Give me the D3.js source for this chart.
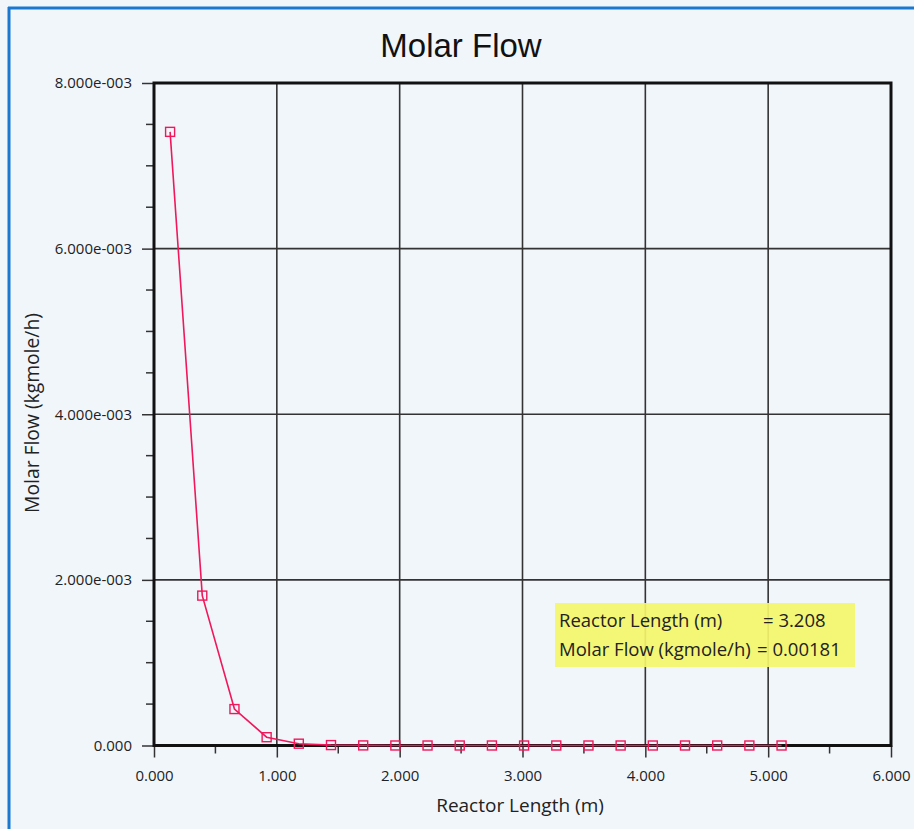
<!DOCTYPE html>
<html><head><meta charset="utf-8">
<script src="https://cdn.jsdelivr.net/npm/d3@7"></script>
<style>
html,body{margin:0;padding:0;background:#f1f6fb;}
svg{display:block;}
</style></head>
<body>
<svg id="chart" width="914" height="829"></svg>
<script>
const reactorLength = [0.131, 0.393, 0.655, 0.917, 1.179, 1.441, 1.703, 1.965, 2.227, 2.489, 2.751, 3.013, 3.275, 3.537, 3.799, 4.061, 4.323, 4.585, 4.847, 5.109];
const molarFlow = [7.41e-3, 1.81e-3, 0.44e-3, 0.10e-3, 0.022e-3, 0.005e-3, 0.001e-3, 0.0002e-3, 0, 0, 0, 0, 0, 0, 0, 0, 0, 0, 0, 0];
const xTicks = [0, 1, 2, 3, 4, 5, 6];
const yTicks = [0, 2e-3, 4e-3, 6e-3, 8e-3];
const xMinor = [0.5, 1.5, 2.5, 3.5, 4.5, 5.5];
const yMinor = [0.5e-3, 1e-3, 1.5e-3, 2.5e-3, 3e-3, 3.5e-3, 4.5e-3, 5e-3, 5.5e-3, 6.5e-3, 7e-3, 7.5e-3];
const legendLines = [["Reactor Length (m)", "= 3.208"], ["Molar Flow (kgmole/h)", "= 0.00181"]];

const svg = d3.select("#chart");
const W = 914, H = 829;
const m = {left: 154, right: 891, top: 83, bottom: 745.5};

// background + blue frame
svg.append("rect").attr("width", W).attr("height", H).attr("fill", "#f1f6fb");
svg.append("line").attr("x1", 8).attr("x2", W).attr("y1", 8).attr("y2", 8).attr("stroke", "#1a78d0").attr("stroke-width", 3);
svg.append("line").attr("x1", 9).attr("x2", 9).attr("y1", 7).attr("y2", H).attr("stroke", "#1a78d0").attr("stroke-width", 3);

const x = d3.scaleLinear().domain([0, 6]).range([m.left, m.right]);
const y = d3.scaleLinear().domain([0, 8e-3]).range([m.bottom, m.top]);

// gridlines
const g = svg.append("g");
g.selectAll(".vg").data(xTicks.slice(1, -1)).join("line")
  .attr("x1", d => x(d)).attr("x2", d => x(d)).attr("y1", m.top).attr("y2", m.bottom)
  .attr("stroke", "#333").attr("stroke-width", 1.6);
g.selectAll(".hg").data(yTicks.slice(1, -1)).join("line")
  .attr("x1", m.left).attr("x2", m.right).attr("y1", d => y(d)).attr("y2", d => y(d))
  .attr("stroke", "#333").attr("stroke-width", 1.6);

// axes
const fontTick = "'Open Sans', 'Noto Sans', sans-serif";
const xAxis = svg.append("g").attr("transform", `translate(0,${m.bottom})`)
  .call(d3.axisBottom(x).tickValues(xTicks).tickSize(12).tickFormat(d3.format(".3f")));
xAxis.select(".domain").remove();
xAxis.selectAll(".tick line").attr("stroke", "#333").attr("stroke-width", 1.5);
xAxis.selectAll("text").attr("font-family", fontTick).attr("font-size", 15).attr("fill", "#222").attr("dy", "1.35em");
svg.append("g").selectAll("line").data(xMinor).join("line")
  .attr("x1", d => x(d)).attr("x2", d => x(d)).attr("y1", m.bottom).attr("y2", m.bottom + 8)
  .attr("stroke", "#333").attr("stroke-width", 1.5);

const yFmt = d => d === 0 ? "0.000" : (d / 1e-3).toFixed(3) + "e-003";
const yAxis = svg.append("g").attr("transform", `translate(${m.left},0)`)
  .call(d3.axisLeft(y).tickValues(yTicks).tickSize(12).tickFormat(yFmt));
yAxis.select(".domain").remove();
yAxis.selectAll(".tick line").attr("stroke", "#333").attr("stroke-width", 1.5);
yAxis.selectAll("text").attr("font-family", fontTick).attr("font-size", 15).attr("fill", "#222").attr("dx", "-7px");
svg.append("g").selectAll("line").data(yMinor).join("line")
  .attr("x1", m.left - 8).attr("x2", m.left).attr("y1", d => y(d)).attr("y2", d => y(d))
  .attr("stroke", "#333").attr("stroke-width", 1.5);

// plot frame
svg.append("rect").attr("x", m.left).attr("y", m.top).attr("width", m.right - m.left).attr("height", m.bottom - m.top)
  .attr("fill", "none").attr("stroke", "#111").attr("stroke-width", 3);

// data
const data = reactorLength.map((d, i) => ({x: d, y: molarFlow[i]}));
const line = d3.line().x(d => x(d.x)).y(d => y(d.y));
svg.append("path").datum(data).attr("d", line).attr("fill", "none").attr("stroke", "#f0185a").attr("stroke-width", 1.6);
svg.append("g").selectAll("rect").data(data).join("rect")
  .attr("x", d => x(d.x) - 4.5).attr("y", d => y(d.y) - 4.5).attr("width", 9).attr("height", 9)
  .attr("fill", "none").attr("stroke", "#f0185a").attr("stroke-width", 1.4);

// title
svg.append("text").attr("x", 461).attr("y", 57).attr("text-anchor", "middle")
  .attr("font-family", "'Liberation Sans', Arial, sans-serif").attr("font-size", 33).attr("fill", "#111").text("Molar Flow");

// axis titles
svg.append("text").attr("x", 520).attr("y", 812).attr("text-anchor", "middle")
  .attr("font-family", fontTick).attr("font-size", 19).attr("fill", "#222").text("Reactor Length (m)");
svg.append("text").attr("transform", `translate(39,413) rotate(-90)`).attr("text-anchor", "middle")
  .attr("font-family", fontTick).attr("font-size", 19.3).attr("fill", "#222").text("Molar Flow (kgmole/h)");

// legend / tooltip
const lg = svg.append("g");
lg.append("rect").attr("x", 555).attr("y", 603).attr("width", 300).attr("height", 64).attr("fill", "#f4f56a").attr("opacity", 0.92);
legendLines.forEach((l, i) => {
  lg.append("text").attr("x", 559).attr("y", 627 + i * 29).attr("font-family", fontTick).attr("font-size", 18.5).attr("fill", "#222").text(l[0]);
  lg.append("text").attr("x", i === 0 ? 763 : 757).attr("y", 627 + i * 29).attr("font-family", fontTick).attr("font-size", 18.5).attr("fill", "#222").text(l[1]);
});
</script>
</body></html>
